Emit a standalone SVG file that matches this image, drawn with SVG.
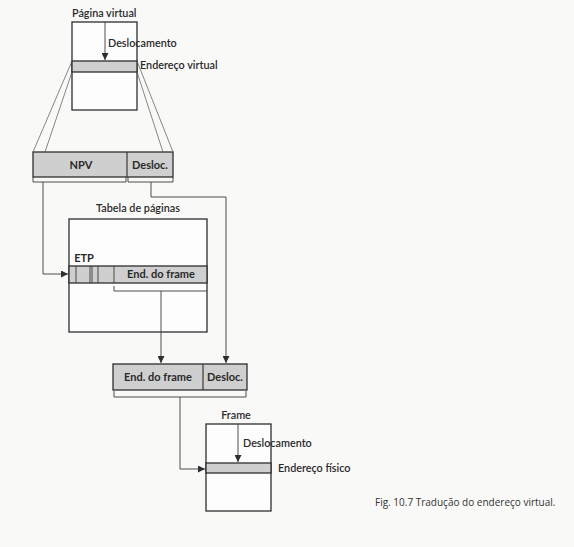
<svg xmlns="http://www.w3.org/2000/svg" width="574" height="547" viewBox="0 0 574 547">
<style>
.bg{fill:#f9f9f8}
.box{fill:#fdfdfd;stroke:#2e2e2e;stroke-width:1.3}
.band{fill:#cfcfcf;stroke:#2e2e2e;stroke-width:1.3}
.ln{fill:none;stroke:#3a3a3a;stroke-width:0.9}
.thin{fill:none;stroke:#555;stroke-width:0.7}
.lbl{font-family:Lato,"Open Sans",sans-serif;font-size:10.8px;font-weight:600;fill:#2a2a2a}
.in{font-family:Lato,"Open Sans",sans-serif;font-size:11px;font-weight:700;fill:#2a2a2a;text-anchor:middle}
.cap{font-family:"Open Sans","Noto Sans",sans-serif;font-size:10px;fill:#333}
</style>
<defs>
<marker id="ah" viewBox="0 0 10 10" refX="10" refY="5" markerWidth="7" markerHeight="7" orient="auto" markerUnits="userSpaceOnUse">
<path d="M0,0 L10,5 L0,10 Z" fill="#2e2e2e"/>
</marker>
</defs>
<rect class="bg" x="0" y="0" width="574" height="547"/>

<g id="pagina-virtual">
<text class="lbl" x="72" y="17">Página virtual</text>
<rect class="box" x="72" y="22" width="65" height="88"/>
<rect class="band" x="72" y="61" width="65" height="11"/>
<line class="ln" x1="105" y1="22" x2="105" y2="60" marker-end="url(#ah)"/>
<text class="lbl" x="108" y="47">Deslocamento</text>
<text class="lbl" x="140" y="69">Endereço virtual</text>
</g>

<g id="endereco-virtual">
<rect class="band" x="33" y="152" width="140" height="25"/>
<line class="ln" x1="127" y1="152" x2="127" y2="177" style="stroke-width:1.2"/>
<text class="in" x="81" y="169">NPV</text>
<text class="in" x="150" y="169">Desloc.</text>
</g>

<g id="tabela-paginas">
<text class="lbl" x="138" y="212" text-anchor="middle">Tabela de páginas</text>
<rect class="box" x="69" y="219" width="138" height="113"/>
<rect class="band" x="69" y="266" width="138" height="17"/>
<line class="ln" x1="76" y1="266" x2="76" y2="283"/>
<line class="ln" x1="90" y1="266" x2="90" y2="283"/>
<line class="ln" x1="92" y1="266" x2="92" y2="283"/>
<line class="ln" x1="98" y1="266" x2="98" y2="283"/>
<line class="ln" x1="114" y1="266" x2="114" y2="283"/>
<text class="in" x="84" y="262">ETP</text>
<text class="in" x="161" y="278">End. do frame</text>
</g>

<g id="endereco-fisico">
<rect class="band" x="113" y="364" width="134" height="26"/>
<line class="ln" x1="203" y1="364" x2="203" y2="390" style="stroke-width:1.2"/>
<text class="in" x="158" y="381">End. do frame</text>
<text class="in" x="225" y="381">Desloc.</text>
</g>

<g id="frame">
<text class="lbl" x="236" y="419" text-anchor="middle">Frame</text>
<rect class="box" x="206" y="424" width="65" height="87"/>
<rect class="band" x="206" y="463" width="65" height="10"/>
<line class="ln" x1="238" y1="424" x2="238" y2="462" marker-end="url(#ah)"/>
<text class="lbl" x="243" y="447">Deslocamento</text>
<text class="lbl" x="278" y="472">Endereço físico</text>
</g>

<g id="connectors">
<line class="thin" x1="72" y1="61" x2="33" y2="152"/>
<line class="thin" x1="72" y1="72" x2="45" y2="152"/>
<line class="thin" x1="137" y1="61" x2="173" y2="152"/>
<line class="thin" x1="137" y1="72" x2="163" y2="152"/>
<path class="ln" d="M33,177 V182 H126 V177"/>
<path class="ln" d="M128,177 V182 H173 V177"/>
<path class="ln" d="M43,182 V274 H68" marker-end="url(#ah)"/>
<path class="ln" d="M151,182 V197 H226 V363" marker-end="url(#ah)"/>
<path class="ln" d="M114,286 V291 H207"/>
<path class="ln" d="M161,291 V363" marker-end="url(#ah)"/>
<path class="ln" d="M114,391 V397 H246 V391"/>
<path class="ln" d="M180,397 V469 H205" marker-end="url(#ah)"/>
</g>

<text class="cap" x="375" y="506">Fig. 10.7 Tradução do endereço virtual.</text>
</svg>
